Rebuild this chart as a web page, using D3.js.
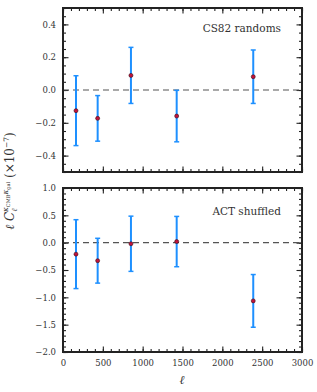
<!DOCTYPE html>
<html>
<head>
<meta charset="utf-8">
<script src="https://cdn.jsdelivr.net/npm/d3@7"></script>
<style>
body { margin: 0; background: #fff; }
text { font-family: "DejaVu Serif", "Liberation Serif", serif; fill: #333; }
</style>
</head>
<body>
<div id="chart"></div>
<script>
// multipole bin centres (same for both panels)
var ells = [163, 435, 853, 1427, 2388];

// CS82 randoms
var randVals = [-0.126, -0.173, 0.089, -0.159, 0.081];
var randErrs = [0.213, 0.139, 0.171, 0.157, 0.163];

// ACT shuffled
var shufVals = [-0.21, -0.33, -0.02, 0.02, -1.065];
var shufErrs = [0.63, 0.41, 0.505, 0.46, 0.482];

var xTicks = [0, 500, 1000, 1500, 2000, 2500, 3000];
var topTicks = [-0.4, -0.2, 0.0, 0.2, 0.4];
var botTicks = [-2.0, -1.5, -1.0, -0.5, 0.0, 0.5, 1.0];

var W = 317, H = 392;
var left = 63, right = 302;

var svg = d3.select("#chart").append("svg")
    .attr("width", W).attr("height", H);

var x = d3.scaleLinear().domain([0, 3000]).range([left, right]);

function fmt(v) {
  return d3.format(".1f")(v).replace("-", "\u2212");
}

function panel(top, bottom, domain, majors, minorStep, vals, errs, label, labelY, showX) {
  var y = d3.scaleLinear().domain(domain).range([bottom, top]);
  var g = svg.append("g");

  var minors = d3.range(domain[0], domain[1] + 1e-9, minorStep);
  var xMinor = d3.range(0, 3001, 100);

  // inward ticks on all four sides
  var ax = [
    { a: d3.axisBottom(x).tickValues(xMinor).tickSize(-3).tickFormat(""), t: "translate(0," + bottom + ")" },
    { a: d3.axisTop(x).tickValues(xMinor).tickSize(-3).tickFormat(""), t: "translate(0," + top + ")" },
    { a: d3.axisBottom(x).tickValues(xTicks).tickSize(-5.5).tickPadding(8).tickFormat(showX ? d3.format("d") : ""), t: "translate(0," + bottom + ")" },
    { a: d3.axisTop(x).tickValues(xTicks).tickSize(-5.5).tickFormat(""), t: "translate(0," + top + ")" },
    { a: d3.axisLeft(y).tickValues(minors).tickSize(-3).tickFormat(""), t: "translate(" + left + ",0)" },
    { a: d3.axisRight(y).tickValues(minors).tickSize(-3).tickFormat(""), t: "translate(" + right + ",0)" },
    { a: d3.axisLeft(y).tickValues(majors).tickSize(-5.5).tickPadding(7).tickFormat(fmt), t: "translate(" + left + ",0)" },
    { a: d3.axisRight(y).tickValues(majors).tickSize(-5.5).tickFormat(""), t: "translate(" + right + ",0)" }
  ];
  ax.forEach(function(d) {
    var a = g.append("g").attr("transform", d.t).call(d.a);
    a.select(".domain").remove();
    a.selectAll("line").attr("stroke", "#222").attr("stroke-width", 1.1);
    a.selectAll("text").attr("font-size", 8.5).attr("fill", "#444")
      .attr("font-family", "DejaVu Serif, serif");
  });

  // zero line
  g.append("line")
    .attr("x1", left).attr("x2", right)
    .attr("y1", y(0)).attr("y2", y(0))
    .attr("stroke", "#555").attr("stroke-width", 1.2)
    .attr("stroke-dasharray", "6,4");

  var data = ells.map(function(l, i) { return { l: l, v: vals[i], e: errs[i] }; });

  var eb = g.selectAll(".eb").data(data).enter().append("g");
  eb.append("line")
    .attr("x1", function(d) { return x(d.l); }).attr("x2", function(d) { return x(d.l); })
    .attr("y1", function(d) { return y(d.v - d.e); }).attr("y2", function(d) { return y(d.v + d.e); })
    .attr("stroke", "#1E90FF").attr("stroke-width", 2);
  [-1, 1].forEach(function(s) {
    eb.append("line")
      .attr("x1", function(d) { return x(d.l) - 2.5; }).attr("x2", function(d) { return x(d.l) + 2.5; })
      .attr("y1", function(d) { return y(d.v + s * d.e); }).attr("y2", function(d) { return y(d.v + s * d.e); })
      .attr("stroke", "#1E90FF").attr("stroke-width", 1.5);
  });
  eb.append("circle")
    .attr("cx", function(d) { return x(d.l); }).attr("cy", function(d) { return y(d.v); })
    .attr("r", 2).attr("fill", "#c0143c").attr("stroke", "#3a0a14").attr("stroke-width", 0.6);

  // frame
  g.append("rect")
    .attr("x", left).attr("y", top)
    .attr("width", right - left).attr("height", bottom - top)
    .attr("fill", "none").attr("stroke", "#222").attr("stroke-width", 2);

  g.append("text")
    .attr("x", 281).attr("y", labelY)
    .attr("text-anchor", "end").attr("font-size", 10.5)
    .text(label);
}

panel(8, 172, [-0.5, 0.5], topTicks, 0.05, randVals, randErrs, "CS82 randoms", 32, false);
panel(188, 352, [-2, 1], botTicks, 0.1, shufVals, shufErrs, "ACT shuffled", 215, true);

// axis labels
svg.append("text")
  .attr("x", 182).attr("y", 384)
  .attr("text-anchor", "middle").attr("font-size", 12).attr("font-style", "italic")
  .text("\u2113");

var yl = svg.append("text")
  .attr("transform", "translate(14,181) rotate(-90)")
  .attr("text-anchor", "middle").attr("font-size", 12);
yl.append("tspan").attr("font-style", "italic").text("\u2113 C");
yl.append("tspan").attr("font-size", 7.5).attr("dy", 3).attr("font-style", "italic").text("\u2113");
yl.append("tspan").attr("font-size", 7.5).attr("dx", -3.5).attr("dy", -9).attr("font-style", "italic").text("\u03BA");
yl.append("tspan").attr("font-size", 5).attr("dy", 1.5).text("CMB");
yl.append("tspan").attr("font-size", 7.5).attr("dy", -1.5).attr("font-style", "italic").text("\u03BA");
yl.append("tspan").attr("font-size", 5).attr("dy", 1.5).text("gal");
yl.append("tspan").attr("dy", 4.5).text(" (\u00D710");
yl.append("tspan").attr("font-size", 7.5).attr("dy", -5).text("\u22127");
yl.append("tspan").attr("dy", 5).text(")");
</script>
</body>
</html>
